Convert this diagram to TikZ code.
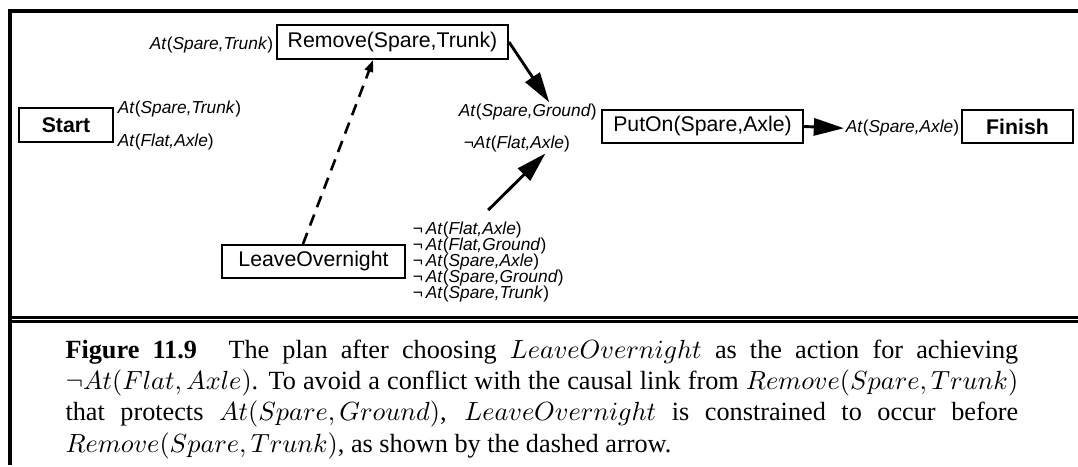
\documentclass[tikz,border=0pt]{standalone}
\usepackage{fontspec}
\setmainfont{Liberation Serif}
\setsansfont{Liberation Sans}
\usetikzlibrary{arrows.meta}

\newcommand{\boxfont}{\sffamily\fontsize{8.1}{9}\selectfont}
\newcommand{\condfont}{\sffamily\fontsize{6.6}{6.1}\selectfont\lineskiplimit=-10pt\relax}
\newcommand{\At}[2]{\textit{At}(\textit{#1,#2})}

\tikzset{
  act/.style={draw, line width=0.75pt, inner sep=0pt, font=\boxfont},
  cond/.style={inner sep=0.5pt, font=\condfont},
  link/.style={line width=1.1pt, -{Triangle[length=11.5pt,width=6.5pt]}},
  order/.style={line width=1pt, dash pattern=on 4.5pt off 3pt, -{Triangle[length=4.5pt,width=3.2pt]}},
}

\begin{document}
\begin{tikzpicture}[x=0.381pt,y=0.381pt,yscale=-1,xscale=1]
\useasboundingbox (0,0) rectangle (1078,467);

%Straight Lines: frame
\draw [line width=1.2pt]  (10,465) -- (10,11) -- (1078,11) ;
\draw [line width=0.8pt]  (10,317.5) -- (1078,317.5) ;
\draw [line width=1.2pt]  (10,321.5) -- (1078,321.5) ;

%Shape: Rectangle
\node [act, minimum width=35.8pt, minimum height=13pt] (start) at (66,125) {\textbf{Start}};
%Shape: Rectangle
\node [act, minimum width=88pt, minimum height=13pt] (remove) at (392.5,42) {Remove(Spare,Trunk)};
%Shape: Rectangle
\node [act, minimum width=76.6pt, minimum height=12.6pt] (puton) at (702.5,126.5) {PutOn(Spare,Axle)};
%Shape: Rectangle
\node [act, minimum width=42.3pt, minimum height=12.6pt] (finish) at (1017.5,126.5) {\textbf{Finish}};
%Shape: Rectangle
\node [act, minimum width=69.7pt, minimum height=12.6pt] (leave) at (313.5,261.5) {LeaveOvernight};

% Text Node
\node [cond, anchor=base west] (starttrunk) at (116,114) {\At{Spare}{Trunk}};
% Text Node
\node [cond, anchor=base west] (startflat) at (116,147) {\At{Flat}{Axle}};
% Text Node
\node [cond, anchor=base east] (removepre) at (275,50) {\At{Spare}{Trunk}};
% Text Node
\node [cond, anchor=base west] (ground) at (457,116.7) {\At{Spare}{Ground}};
% Text Node
\node [cond, anchor=base west] (flat) at (462,148) {¬\At{Flat}{Axle}};
% Text Node
\node [cond, anchor=base west] (axle) at (844,132.7) {\At{Spare}{Axle}};
% Text Node
\node [cond, anchor=north west, align=left] (effects) at (411,220) {¬\,\At{Flat}{Axle}\\ ¬\,\At{Flat}{Ground}\\ ¬\,\At{Spare}{Axle}\\ ¬\,\At{Spare}{Ground}\\ ¬\,\At{Spare}{Trunk}};

%Straight Lines
\draw [link]  (remove.east) -- ([xshift=8.2pt]ground.north) ;
%Straight Lines
\draw [link]  ([yshift=-3.8pt]effects.north) -- ([xshift=10.9pt]flat.south) ;
%Straight Lines
\draw [link]  (puton.east) -- (axle.west) ;
%Dashed Lines
\draw [order]  ([xshift=-4pt]leave.north) -- ([xshift=-7.4pt]remove.south) ;

% Text Node
\node [anchor=base west, inner sep=0pt, text width=363pt, align=justify, font=\fontsize{10}{12}\selectfont] (caption) at (65,358) {\textbf{Figure 11.9}\hspace{1.2em}The plan after choosing $LeaveOvernight$ as the action for achieving\linebreak
$\neg At(Flat, Axle)$. To avoid a conflict with the causal link from $Remove(Spare, Trunk)$\linebreak
that protects $At(Spare, Ground)$, $LeaveOvernight$ is constrained to occur before\linebreak
$Remove(Spare, Trunk)$, as shown by the dashed arrow.};

\end{tikzpicture}
\end{document}
